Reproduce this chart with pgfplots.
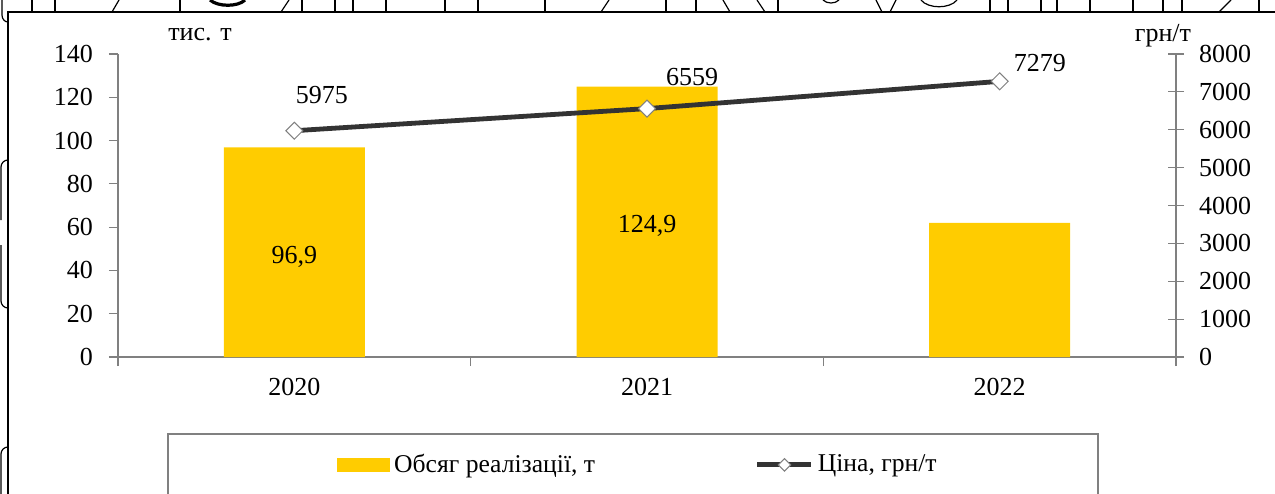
\documentclass[border=0pt]{standalone}
\usepackage{fontspec}
\setmainfont{Liberation Serif}
\usepackage{pgfplots}
\usepackage{pgfplotstable}
\pgfplotsset{compat=1.18}

\definecolor{barY}{HTML}{FFCC00}
\definecolor{lineC}{HTML}{333333}
\definecolor{axisG}{HTML}{808080}

% sales volume, thousand t
\pgfplotstableread{
x vol
0 96.9
1 124.9
2 62
}\volume
% price, UAH/t
\pgfplotstableread{
x price
0 5975
1 6559
2 7279
}\price

\pgfplotsset{price legend/.style={legend image code/.code={%
  \draw[mark repeat=2,mark phase=2,##1,line width=2.4pt,mark size=2.2pt]
    plot coordinates {(0pt,0pt) (13.5pt,0pt) (27pt,0pt)};}}}

\begin{document}
\fontsize{13}{15}\selectfont
\begin{tikzpicture}
\begin{scope}
\clip (0,0) rectangle (637.5pt,-246.5pt);

% page frame and cut-off decorations (pixel units)
\begin{scope}[x=0.5pt,y=-0.5pt,line width=0.6pt]
  \draw[line width=1pt] (8,500) -- (8,12) -- (1280,12);
  \draw (32,0)--(32,12) (55,0)--(55,12) (180,0)--(180,12) (302,0)--(302,12)
        (335,0)--(335,12) (353,0)--(353,12) (386,0)--(386,12) (445,0)--(445,12)
        (478,0)--(478,12) (545,0)--(545,12) (666,0)--(666,12) (696,0)--(696,12)
        (778,0)--(778,12) (990,0)--(990,12) (1008,0)--(1008,12) (1041,0)--(1041,12)
        (1057,0)--(1057,12) (1090,0)--(1090,12) (1133,0)--(1133,12) (1163,0)--(1163,12)
        (1182,0)--(1182,12) (1259,0)--(1259,12);
  \draw (119,0)--(112,12) (289,0)--(281,12) (609,0)--(601,12) (1231,0)--(1219,12)
        (723,0)--(730,12) (757,0)--(765,12) (876,0)--(882,12) (896,0)--(890,12);
  \draw[line width=1.6pt] (210,0) .. controls (218,7) and (238,7) .. (245,0);
  \draw (823,0) .. controls (827,4) and (835,4) .. (839,0);
  \draw (921,0) .. controls (928,9) and (950,9) .. (957,0);
  \draw (2,0) -- (2,15) to[out=-90,in=180] (8,22);
  \draw (8,160) to[out=180,in=90] (1,167) -- (1,220);
  \draw (1,245) -- (1,301) to[out=-90,in=180] (8,308);
  \draw (8,447) to[out=180,in=90] (1,454) -- (1,500);
  % legend frame
  \draw[axisG] (168,500) -- (168,434) -- (1098,434) -- (1098,500);
  % unit labels
  \node at (200,35) {тис. т};
  \node at (1163,36) {грн/т};
\end{scope}

\begin{axis}[
  at={(59pt,-178.5pt)}, anchor=south west,
  scale only axis, width=529pt, height=151.5pt,
  xmin=-0.5, xmax=2.5, ymin=0, ymax=140,
  axis x line*=bottom, axis y line*=left,
  axis line style={draw=axisG, line width=0.6pt, -},
  tick style={draw=axisG, line width=0.6pt},
  tick align=outside, major tick length=4.5pt,
  xtick={-0.5,0.5,1.5,2.5}, xticklabels={,,,},
  extra x ticks={0,1,2}, extra x tick labels={2020,2021,2022},
  extra x tick style={major tick length=0pt, xticklabel style={yshift=-6pt}},
  ytick={0,20,...,140},
  yticklabel style={xshift=-3.5pt},
  /pgf/number format/assume math mode=true,
  clip=false,
]
\addplot[ybar, bar width=70.5pt, fill=barY, draw=none] table[x=x, y=vol] {\volume};
\node[anchor=base] at (axis cs:0,43.4) {96,9};
\node[anchor=base] at (axis cs:1,57.3) {124,9};
\end{axis}

\begin{axis}[
  at={(59pt,-178.5pt)}, anchor=south west,
  scale only axis, width=529pt, height=151.5pt,
  xmin=-0.5, xmax=2.5, ymin=0, ymax=8000,
  axis x line=none, axis y line*=right,
  axis line style={draw=axisG, line width=0.6pt, -},
  tick style={draw=axisG, line width=0.6pt},
  tick align=center, major tick length=8pt,
  ytick={0,1000,...,8000},
  scaled y ticks=false,
  yticklabel style={xshift=3pt},
  /pgf/number format/1000 sep={},
  /pgf/number format/assume math mode=true,
  clip=false,
  legend columns=2,
  legend cell align=left,
  legend style={at={(axis description cs:0.207,-0.356)}, anchor=west,
    draw=none, fill=none, inner sep=0pt,
    font=\fontsize{12.8}{15}\selectfont,
    /tikz/every even column/.append style={column sep=78pt}},
]
\addlegendimage{legend image code/.code={\fill[barY] (0pt,-3.25pt) rectangle (26pt,3.25pt);}}
\addlegendentry{Обсяг реалізації, т}
\addplot[line width=2.4pt, draw=lineC, mark=square*,
  mark options={rotate=45, fill=white, draw=axisG, line width=0.5pt, solid},
  mark size=3pt, price legend]
  table[x=x, y=price] {\price};
\addlegendentry{Ціна, грн/т}
\node[anchor=base] at (axis cs:0.078,6706) {5975};
\node[anchor=base] at (axis cs:1.128,7182) {6559};
\node[anchor=base] at (axis cs:2.114,7551) {7279};
\end{axis}
\end{scope}
\pgfresetboundingbox
\useasboundingbox (0,0) rectangle (637.5pt,-246.5pt);
\end{tikzpicture}
\end{document}
